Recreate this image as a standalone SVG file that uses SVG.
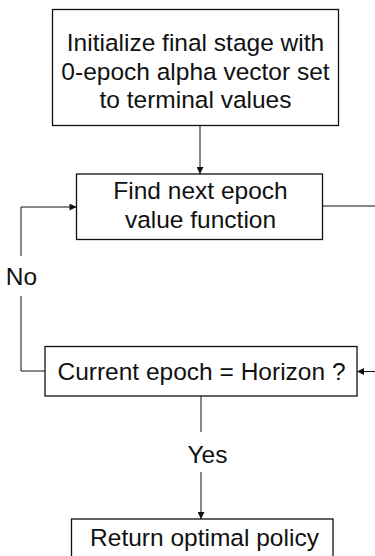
<svg xmlns="http://www.w3.org/2000/svg" width="375" height="556" viewBox="0 0 375 556">
<defs>
<style>
.box{fill:#fff;stroke:#111;stroke-width:1.3}
.t{font-family:"Liberation Sans",Arial,sans-serif;font-size:24.5px;fill:#111;text-anchor:middle}
.c{fill:none;stroke:#111;stroke-width:1}
</style>
<marker id="ah" viewBox="0 0 10 10" refX="10" refY="5" markerWidth="8" markerHeight="7" markerUnits="userSpaceOnUse" orient="auto">
<path d="M0,0 L10,5 L0,10 z" fill="#111"/>
</marker>
</defs>
<rect width="375" height="556" fill="#fff"/>
<g id="connectors">
<path class="c" d="M200,125 V174" marker-end="url(#ah)"/>
<path class="c" d="M45,371 H21 V296"/>
<path class="c" d="M21,256 V207 H76.5" marker-end="url(#ah)"/>
<path class="c" d="M323,206 H376 V371.5 H357" marker-end="url(#ah)"/>
<path class="c" d="M201,396 V432"/>
<path class="c" d="M201,472 V519" marker-end="url(#ah)"/>
</g>
<g id="init">
<rect class="box" x="52.5" y="9.5" width="286" height="116"/>
<text class="t" x="195.5" y="51">Initialize final stage with</text>
<text class="t" x="195.5" y="79.5">0-epoch alpha vector set</text>
<text class="t" x="195.5" y="108">to terminal values</text>
</g>
<g id="find">
<rect class="box" x="76.5" y="174" width="246" height="65.5"/>
<text class="t" x="200.5" y="199">Find next epoch</text>
<text class="t" x="200.5" y="227.5">value function</text>
</g>
<g id="check">
<rect class="box" x="45" y="346.5" width="312" height="49.5"/>
<text class="t" x="201.5" y="379.5">Current epoch = Horizon ?</text>
</g>
<g id="ret">
<rect class="box" x="71.5" y="519" width="261.5" height="50"/>
<text class="t" x="204.5" y="546">Return optimal policy</text>
</g>
<text class="t" x="21.5" y="285">No</text>
<text class="t" x="207.5" y="463">Yes</text>
</svg>
